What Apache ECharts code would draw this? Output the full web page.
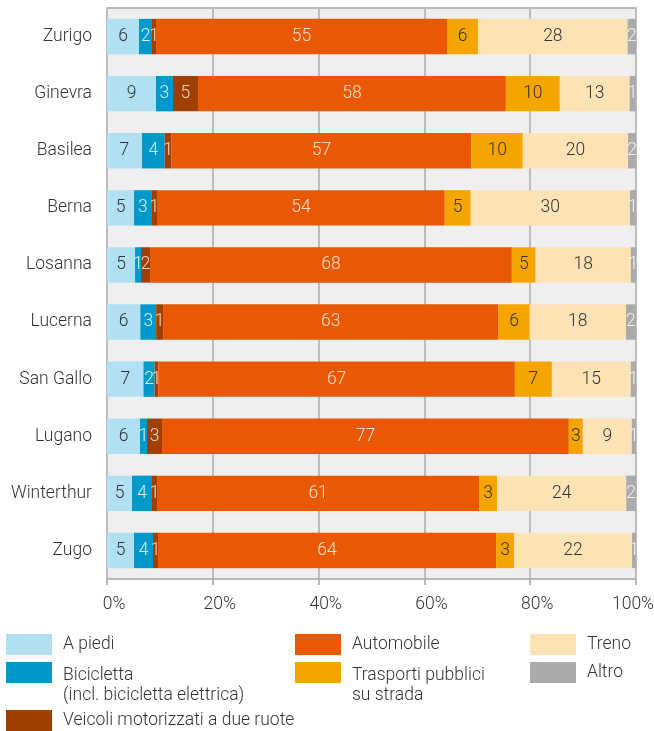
<!DOCTYPE html>
<html>
<head>
<meta charset="utf-8">
<script src="https://cdn.jsdelivr.net/npm/echarts@6/dist/echarts.min.js"></script>
<style>
  html, body { margin: 0; padding: 0; background: #ffffff; }
  #chart { width: 654px; height: 731px; }
</style>
</head>
<body>
<div id="chart"></div>
<script>
// Categories (top to bottom)
const cities = ['Zurigo', 'Ginevra', 'Basilea', 'Berna', 'Losanna', 'Lucerna', 'San Gallo', 'Lugano', 'Winterthur', 'Zugo'];

// Series values (% of trips)
const aPiedi      = [6.05, 9.26, 6.6, 5.1, 5.3, 6.3, 6.9, 6.24, 4.73, 5.1];
const bicicletta  = [2.46, 3.21, 4.3, 3.4, 1.13, 3.0, 2.1, 1.32, 3.78, 3.6];
const veicoli2r   = [0.76, 4.73, 1.3, 0.95, 1.7, 1.3, 0.7, 2.84, 0.95, 0.95];
const automobile  = [55.0, 58.2, 56.7, 54.4, 68.4, 63.4, 67.4, 76.9, 60.9, 63.9];
const trasporti   = [5.86, 10.2, 9.7, 4.9, 4.5, 5.9, 7.0, 2.65, 3.4, 3.4];
const treno       = [28.3, 13.2, 19.9, 30.1, 18.0, 18.2, 14.9, 9.26, 24.4, 22.3];
const altro       = [1.57, 1.13, 1.5, 1.13, 0.95, 1.9, 1.0, 0.76, 1.9, 0.76];

// Tick labels
const xTicks = [0, 20, 40, 60, 80, 100];

// Series names
const names = ['A piedi', 'Bicicletta (incl. bicicletta elettrica)', 'Veicoli motorizzati a due ruote',
               'Automobile', 'Trasporti pubblici su strada', 'Treno', 'Altro'];
const legendLines = {
  'A piedi': ['A piedi'],
  'Bicicletta (incl. bicicletta elettrica)': ['Bicicletta', '(incl. bicicletta elettrica)'],
  'Veicoli motorizzati a due ruote': ['Veicoli motorizzati a due ruote'],
  'Automobile': ['Automobile'],
  'Trasporti pubblici su strada': ['Trasporti pubblici', 'su strada'],
  'Treno': ['Treno'],
  'Altro': ['Altro']
};
const colors = ['#b2e0f3', '#0099c9', '#a03f00', '#e95905', '#f6a500', '#fde2b6', '#aaaaaa'];
const labelColors = ['#333333', 'rgba(255,255,255,0.85)', 'rgba(255,255,255,0.8)', 'rgba(255,255,255,0.8)',
                     '#333333', '#333333', 'rgba(255,255,255,0.85)'];
const values = [aPiedi, bicicletta, veicoli2r, automobile, trasporti, treno, altro];

const FONT = 'Roboto, "Noto Sans", sans-serif';
const TXT = '#333333';
const FS = 17.5;

const series = names.map((n, i) => ({
  name: n,
  type: 'bar',
  stack: 'total',
  barCategoryGap: '38%',
  data: values[i],
  itemStyle: { color: colors[i] },
  label: {
    show: true,
    position: 'inside',
    formatter: p => String(Math.round(p.value)),
    color: labelColors[i],
    fontFamily: FONT,
    fontWeight: 300,
    fontSize: FS
  },
  emphasis: { disabled: true }
}));

function mkLegend(name, left, iconTop) {
  const lh = 20, lhs = 26;
  const lines = legendLines[name];
  const two = lines.length > 1;
  const tStyle = { fontFamily: FONT, fontWeight: 300, fontSize: FS, color: TXT, lineHeight: lh };
  return {
    show: true,
    orient: 'vertical',
    left: left,
    top: two ? iconTop + 10.5 - (lhs + 2 * lh) / 2 : iconTop,
    padding: 0,
    itemWidth: 46,
    itemHeight: 21,
    icon: 'rect',
    selectedMode: false,
    data: [name],
    formatter: nm => two
      ? '{s|\u00a0}\n' + legendLines[nm].map(t => '{t|' + t + '}').join('\n')
      : legendLines[nm][0],
    textStyle: Object.assign({}, tStyle, {
      padding: [0, 0, 0, 6],
      rich: {
        s: { fontSize: FS, lineHeight: lhs },
        t: tStyle
      }
    })
  };
}

const option = {
  animation: false,
  textStyle: { fontFamily: FONT },
  grid: {
    left: 107, right: 18, top: 8, bottom: 152,
    containLabel: false,
    outerBoundsMode: 'none',
    show: true,
    backgroundColor: '#efefef',
    borderColor: '#a3a3a3',
    borderWidth: 1.5
  },
  legend: [
    mkLegend(names[0], 6, 634),
    mkLegend(names[1], 6, 662),
    mkLegend(names[2], 6, 710),
    mkLegend(names[3], 295, 634),
    mkLegend(names[4], 295, 662),
    mkLegend(names[5], 530, 634),
    mkLegend(names[6], 530, 662)
  ],
  xAxis: {
    type: 'value',
    min: xTicks[0],
    max: xTicks[xTicks.length - 1],
    interval: xTicks[1] - xTicks[0],
    axisLine: { show: false },
    axisTick: { show: true, length: 6, lineStyle: { color: '#a3a3a3', width: 1.5 } },
    splitLine: { show: true, lineStyle: { color: '#bcbcbc', width: 2 } },
    axisLabel: {
      margin: 17,
      formatter: v => v === 100 ? '{r|' + v + '%}' : '{l|' + v + '%}',
      rich: {
        l: { fontFamily: FONT, fontWeight: 300, fontSize: FS, color: TXT, padding: [0, 0, 0, 14] },
        r: { fontFamily: FONT, fontWeight: 300, fontSize: FS, color: TXT, padding: [0, 6, 0, 0] }
      }
    }
  },
  yAxis: {
    type: 'category',
    data: cities,
    inverse: true,
    axisLine: { show: false },
    axisTick: { show: false },
    axisLabel: {
      margin: 15,
      fontFamily: FONT,
      fontWeight: 300,
      fontSize: FS,
      color: TXT
    }
  },
  series: series
};

const chart = echarts.init(document.getElementById('chart'), null, { renderer: 'canvas' });
chart.setOption(option);
</script>
</body>
</html>
